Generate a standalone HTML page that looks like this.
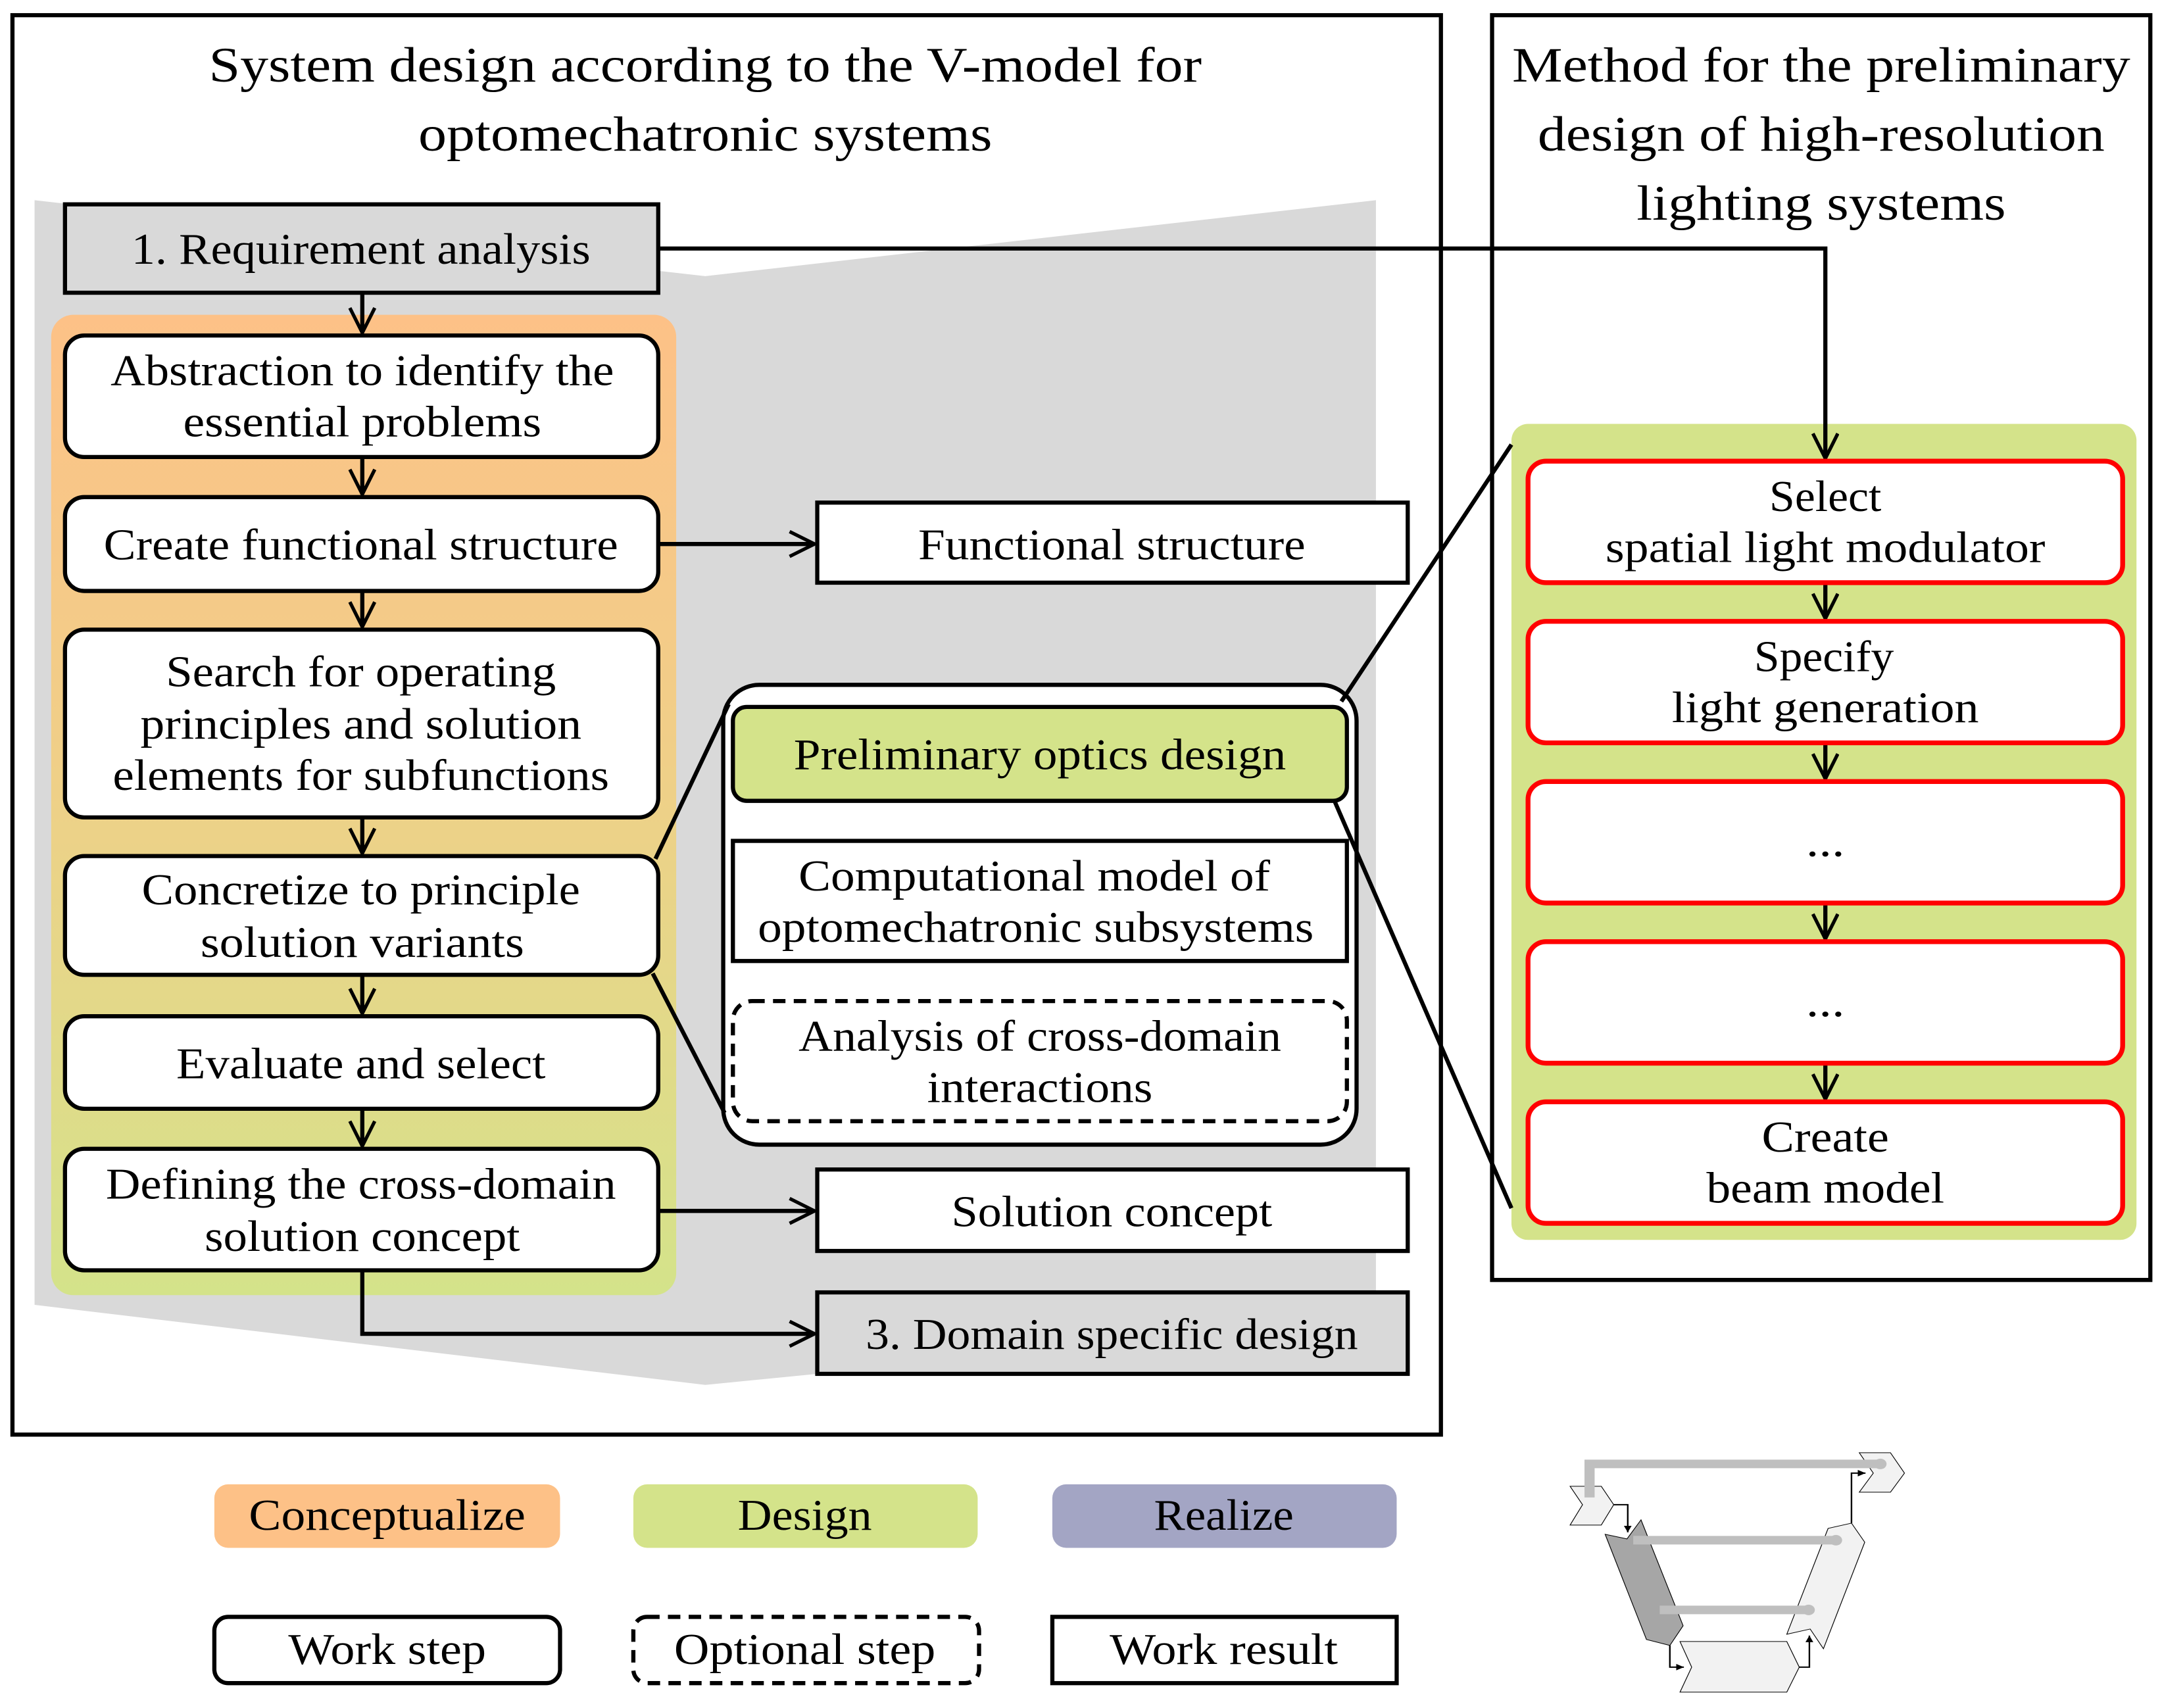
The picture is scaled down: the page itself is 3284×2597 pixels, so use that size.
<!DOCTYPE html>
<html><head><meta charset="utf-8"><style>
html,body{margin:0;padding:0;background:#fff}
svg{display:block}
text{font-family:"Liberation Serif",serif;fill:#000}
</style></head><body>
<svg width="3284" height="2597" viewBox="0 0 1562 1237" preserveAspectRatio="none" xmlns="http://www.w3.org/2000/svg">
<defs>
<marker id="a" markerUnits="userSpaceOnUse" markerWidth="30" markerHeight="30" refX="19" refY="10" orient="auto" viewBox="0 0 30 30">
<path d="M1,1 L19,10 L1,19" fill="none" stroke="#000" stroke-width="2.5"/></marker>
<linearGradient id="g" x1="0" y1="0" x2="0" y2="1">
<stop offset="0" stop-color="#fdc187"/><stop offset="0.45" stop-color="#f0cf88"/><stop offset="1" stop-color="#d4e38a"/></linearGradient>
<marker id="t" markerUnits="userSpaceOnUse" markerWidth="20" markerHeight="20" refX="10" refY="5" orient="auto" viewBox="0 0 20 20">
<path d="M0,0 L10,5 L0,10 Z" fill="#000"/></marker>
</defs>
<g fill="none" stroke="#000" stroke-width="3">
<rect x="9" y="11" width="1033" height="1028"/>
<rect x="1079" y="11" width="476" height="916"/>
</g>
<g font-size="36" text-anchor="middle">
<text x="510" y="59" textLength="718" lengthAdjust="spacingAndGlyphs">System design according to the V-model for</text>
<text x="510" y="109" textLength="415" lengthAdjust="spacingAndGlyphs">optomechatronic systems</text>
<text x="1317" y="59" textLength="447" lengthAdjust="spacingAndGlyphs">Method for the preliminary</text>
<text x="1317" y="109" textLength="410" lengthAdjust="spacingAndGlyphs">design of high-resolution</text>
<text x="1317" y="159" textLength="267" lengthAdjust="spacingAndGlyphs">lighting systems</text>
</g>
<polygon points="25,145 510,200 995,145 995,955 510,1003 25,945" fill="#d9d9d9"/>
<rect x="37" y="228" width="452" height="710" rx="16" fill="url(#g)"/>
<rect x="1093" y="307" width="452" height="591" rx="12" fill="#d4e38a"/>
<g stroke="#000" stroke-width="3" fill="none">
<polyline points="476,180 1320,180 1320,332" marker-end="url(#a)"/>
<line x1="262" y1="212" x2="262" y2="241" marker-end="url(#a)"/>
<line x1="262" y1="331" x2="262" y2="358" marker-end="url(#a)"/>
<line x1="262" y1="428" x2="262" y2="454" marker-end="url(#a)"/>
<line x1="262" y1="592" x2="262" y2="618" marker-end="url(#a)"/>
<line x1="262" y1="706" x2="262" y2="734" marker-end="url(#a)"/>
<line x1="262" y1="803" x2="262" y2="830" marker-end="url(#a)"/>
<line x1="476" y1="394" x2="589" y2="394" marker-end="url(#a)"/>
<line x1="476" y1="877" x2="589" y2="877" marker-end="url(#a)"/>
<polyline points="262,920 262,966 589,966" marker-end="url(#a)"/>
<line x1="752" y1="580" x2="752" y2="607" marker-end="url(#a)"/>
<line x1="752" y1="696" x2="752" y2="723" marker-end="url(#a)"/>
<line x1="1320" y1="422" x2="1320" y2="448" marker-end="url(#a)"/>
<line x1="1320" y1="538" x2="1320" y2="564" marker-end="url(#a)"/>
<line x1="1320" y1="654" x2="1320" y2="680" marker-end="url(#a)"/>
<line x1="1320" y1="770" x2="1320" y2="796" marker-end="url(#a)"/>
</g>
<g stroke="#000" stroke-width="3">
<rect x="47" y="148" width="429" height="64" fill="#d9d9d9"/>
<rect x="47" y="243" width="429" height="88" rx="14" fill="#fff"/>
<rect x="47" y="360" width="429" height="68" rx="14" fill="#fff"/>
<rect x="47" y="456" width="429" height="136" rx="14" fill="#fff"/>
<rect x="47" y="620" width="429" height="86" rx="14" fill="#fff"/>
<rect x="47" y="736" width="429" height="67" rx="14" fill="#fff"/>
<rect x="47" y="832" width="429" height="88" rx="14" fill="#fff"/>
<rect x="591" y="364" width="427" height="58" fill="#fff"/>
<rect x="591" y="847" width="427" height="59" fill="#fff"/>
<rect x="591" y="936" width="427" height="59" fill="#d9d9d9"/>
<rect x="523" y="496" width="458" height="333" rx="26" fill="#fff"/>
<rect x="530" y="512" width="444" height="68" rx="10" fill="#d4e38a"/>
<rect x="530" y="609" width="444" height="87" fill="#fff"/>
<rect x="530" y="725" width="444" height="87" rx="14" fill="#fff" stroke-dasharray="9,6"/>
<line x1="474" y1="622" x2="527" y2="510"/>
<line x1="472" y1="705" x2="524" y2="806"/>
<line x1="970" y1="508" x2="1093" y2="322"/>
<line x1="965" y1="580" x2="1093" y2="875"/>
</g>
<g stroke="#ff0000" stroke-width="3.5" fill="#fff">
<rect x="1105" y="334" width="430" height="88" rx="13"/>
<rect x="1105" y="450" width="430" height="88" rx="13"/>
<rect x="1105" y="566" width="430" height="88" rx="13"/>
<rect x="1105" y="682" width="430" height="88" rx="13"/>
<rect x="1105" y="798" width="430" height="88" rx="13"/>
</g>
<g font-size="32" text-anchor="middle">
<text x="261" y="191" textLength="332" lengthAdjust="spacingAndGlyphs">1. Requirement analysis</text>
<text x="262" y="279" textLength="364" lengthAdjust="spacingAndGlyphs">Abstraction to identify the</text>
<text x="262" y="316" textLength="259" lengthAdjust="spacingAndGlyphs">essential problems</text>
<text x="261" y="405" textLength="372" lengthAdjust="spacingAndGlyphs">Create functional structure</text>
<text x="261" y="497" textLength="282" lengthAdjust="spacingAndGlyphs">Search for operating</text>
<text x="261" y="535" textLength="319" lengthAdjust="spacingAndGlyphs">principles and solution</text>
<text x="261" y="572" textLength="359" lengthAdjust="spacingAndGlyphs">elements for subfunctions</text>
<text x="261" y="655" textLength="317" lengthAdjust="spacingAndGlyphs">Concretize to principle</text>
<text x="262" y="693" textLength="234" lengthAdjust="spacingAndGlyphs">solution variants</text>
<text x="261" y="781" textLength="267" lengthAdjust="spacingAndGlyphs">Evaluate and select</text>
<text x="261" y="868" textLength="369" lengthAdjust="spacingAndGlyphs">Defining the cross-domain</text>
<text x="262" y="906" textLength="228" lengthAdjust="spacingAndGlyphs">solution concept</text>
<text x="804" y="405" textLength="280" lengthAdjust="spacingAndGlyphs">Functional structure</text>
<text x="804" y="888" textLength="232" lengthAdjust="spacingAndGlyphs">Solution concept</text>
<text x="804" y="977" textLength="356" lengthAdjust="spacingAndGlyphs">3. Domain specific design</text>
<text x="752" y="557" textLength="356" lengthAdjust="spacingAndGlyphs">Preliminary optics design</text>
<text x="748" y="645" textLength="341" lengthAdjust="spacingAndGlyphs">Computational model of</text>
<text x="749" y="682" textLength="402" lengthAdjust="spacingAndGlyphs">optomechatronic subsystems</text>
<text x="752" y="761" textLength="349" lengthAdjust="spacingAndGlyphs">Analysis of cross-domain</text>
<text x="752" y="798" textLength="163" lengthAdjust="spacingAndGlyphs">interactions</text>
<text x="1320" y="370" textLength="81" lengthAdjust="spacingAndGlyphs">Select</text>
<text x="1320" y="407" textLength="318" lengthAdjust="spacingAndGlyphs">spatial light modulator</text>
<text x="1319" y="486" textLength="101" lengthAdjust="spacingAndGlyphs">Specify</text>
<text x="1320" y="523" textLength="222" lengthAdjust="spacingAndGlyphs">light generation</text>
<text x="1320" y="620" textLength="28" lengthAdjust="spacingAndGlyphs">...</text>
<text x="1320" y="736" textLength="28" lengthAdjust="spacingAndGlyphs">...</text>
<text x="1320" y="834" textLength="92" lengthAdjust="spacingAndGlyphs">Create</text>
<text x="1320" y="871" textLength="172" lengthAdjust="spacingAndGlyphs">beam model</text>
</g>
<rect x="155" y="1075" width="250" height="46" rx="10" fill="#fdc187"/>
<rect x="458" y="1075" width="249" height="46" rx="10" fill="#d4e38a"/>
<rect x="761" y="1075" width="249" height="46" rx="10" fill="#a3a5c4"/>
<g stroke="#000" stroke-width="3" fill="#fff">
<rect x="155" y="1171" width="250" height="48" rx="10"/>
<rect x="458" y="1171" width="250" height="48" rx="10" stroke-dasharray="9,6"/>
<rect x="761" y="1171" width="249" height="48"/>
</g>
<g font-size="32" text-anchor="middle">
<text x="280" y="1108" textLength="200" lengthAdjust="spacingAndGlyphs">Conceptualize</text>
<text x="582" y="1108" textLength="97" lengthAdjust="spacingAndGlyphs">Design</text>
<text x="885" y="1108" textLength="101" lengthAdjust="spacingAndGlyphs">Realize</text>
<text x="280" y="1205" textLength="143" lengthAdjust="spacingAndGlyphs">Work step</text>
<text x="582" y="1205" textLength="189" lengthAdjust="spacingAndGlyphs">Optional step</text>
<text x="885" y="1205" textLength="165" lengthAdjust="spacingAndGlyphs">Work result</text>
</g>
<g transform="translate(1140,0) scale(1.185,1) translate(-1137,0)">
<g transform="scale(0.4757,0.4763)">
<g stroke="#000" stroke-width="1" fill="#f2f2f2">
<polygon points="2382,2260 2422,2260 2438,2288 2422,2319 2382,2319 2398,2288"/>
<polygon points="2753,2209 2793,2209 2811,2240 2793,2269 2753,2269 2771,2240"/>
<polygon points="2427,2333 2455,2340 2473,2311 2527,2472 2510,2502 2480,2493" fill="#a6a6a6"/>
<polygon points="2523,2496 2660,2496 2676,2535 2660,2573 2523,2573 2538,2535"/>
<polygon points="2660,2485 2690,2477 2707,2507 2760,2345 2743,2316 2713,2324"/>
</g>
<g stroke="#bfbfbf" stroke-width="13" fill="none">
<polyline points="2407,2277 2407,2226 2780,2226"/>
<line x1="2463" y1="2342" x2="2723" y2="2342"/>
<line x1="2497" y1="2448" x2="2688" y2="2448"/>
</g>
<g fill="#bfbfbf"><circle cx="2780" cy="2226" r="8"/><circle cx="2723" cy="2342" r="8"/><circle cx="2688" cy="2448" r="8"/></g>
<g stroke="#000" stroke-width="2" fill="none">
<polyline points="2438,2288 2456,2288 2456,2330" marker-end="url(#t)"/>
<polyline points="2510,2502 2510,2535 2528,2535" marker-end="url(#t)"/>
<polyline points="2676,2535 2689,2535 2689,2487" marker-end="url(#t)"/>
<polyline points="2743,2316 2743,2240 2761,2240" marker-end="url(#t)"/>
</g>
</g>
</g>
</svg>
</body></html>
